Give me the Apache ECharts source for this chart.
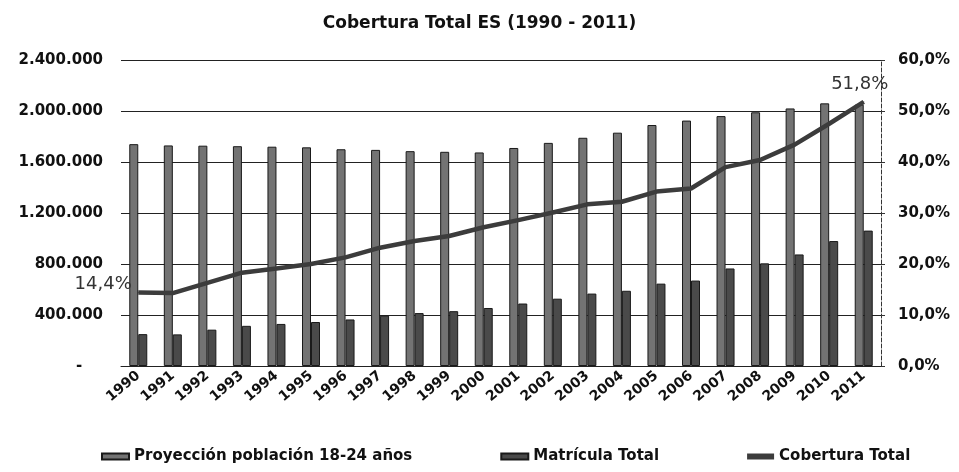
<!DOCTYPE html>
<html>
<head>
<meta charset="utf-8">
<script src="https://cdn.jsdelivr.net/npm/echarts@6/dist/echarts.min.js"></script>
<style>
    html, body {margin: 0; padding: 0; background: #fff;}
    #main {width: 959px; height: 472px;}
</style>
</head>
<body>
<div id="main"></div>
<script>
    var years = ['1990', '1991', '1992', '1993', '1994', '1995', '1996', '1997', '1998', '1999', '2000',
        '2001', '2002', '2003', '2004', '2005', '2006', '2007', '2008', '2009', '2010', '2011'];
    var proyeccion = [1740000, 1730000, 1728000, 1724000, 1720000, 1715000, 1700000, 1695000, 1685000, 1680000, 1675000,
        1710000, 1750000, 1790000, 1830000, 1890000, 1925000, 1960000, 1990000, 2020000, 2060000, 2050000];
    var matricula = [250000, 248000, 285000, 315000, 330000, 345000, 365000, 395000, 415000, 430000, 455000,
        490000, 528000, 568000, 590000, 646000, 670000, 765000, 805000, 875000, 980000, 1062000];
    var cobertura = [14.4, 14.3, 16.3, 18.3, 19.1, 20.0, 21.3, 23.2, 24.5, 25.5, 27.2,
        28.6, 30.1, 31.7, 32.2, 34.2, 34.8, 39.0, 40.4, 43.4, 47.5, 51.8];

    var font = 'DejaVu Sans';

    function miles(v) {
        if (v === 0) return '-    ';
        return String(v).replace(/\B(?=(\d{3})+(?!\d))/g, '.');
    }

    function pct(v) {
        return v.toFixed(1).replace('.', ',') + '%';
    }

    // only the first and last point carry a label
    var lineData = cobertura.map(function (v, i) {
        if (i === 0) {
            return {value: v, label: {show: true, position: 'left', distance: 2, offset: [-4, -8]}};
        }
        if (i === cobertura.length - 1) {
            return {value: v, label: {show: true, position: 'top', distance: 4, offset: [-4, -4]}};
        }
        return v;
    });

    var chart = echarts.init(document.getElementById('main'));
    chart.setOption({
        animation: false,
        textStyle: {fontFamily: font},
        title: {
            text: 'Cobertura Total ES (1990 - 2011)', left: 'center', top: 10,
            textStyle: {fontFamily: font, fontSize: 17, fontWeight: 'bold', color: '#111'}
        },
        grid: {left: 121, right: 78, top: 60, bottom: 106},
        legend: {
            left: 96, bottom: 3, itemGap: 88, itemWidth: 27, itemHeight: 6,
            textStyle: {fontFamily: font, fontSize: 15, fontWeight: 'bold', color: '#111'},
            data: [
                {name: 'Proyección población 18-24 años', icon: 'rect'},
                {name: 'Matrícula Total', icon: 'rect'},
                {name: 'Cobertura Total', icon: 'rect'}
            ]
        },
        xAxis: {
            type: 'category', data: years,
            axisLine: {lineStyle: {color: '#222'}},
            axisTick: {show: false},
            axisLabel: {rotate: 40, margin: 8, fontSize: 14, fontWeight: 'bold', color: '#111', interval: 0}
        },
        yAxis: [
            {
                type: 'value', min: 0, max: 2400000, interval: 400000,
                axisLine: {show: false}, axisTick: {show: false},
                splitLine: {lineStyle: {color: '#222', width: 1}},
                axisLabel: {margin: 18, fontSize: 15, fontWeight: 'bold', color: '#111', formatter: miles}
            },
            {
                type: 'value', min: 0, max: 60, interval: 10, position: 'right',
                axisLine: {show: true, lineStyle: {color: '#333', type: 'dashed'}},
                axisTick: {show: true, length: 4, lineStyle: {color: '#333'}},
                splitLine: {show: false},
                axisLabel: {margin: 17, fontSize: 15, fontWeight: 'bold', color: '#111', formatter: pct}
            }
        ],
        series: [
            {
                name: 'Proyección población 18-24 años', type: 'bar',
                barWidth: 9, barGap: '0%',
                itemStyle: {color: '#737373', borderColor: '#1a1a1a', borderWidth: 1},
                data: proyeccion
            },
            {
                name: 'Matrícula Total', type: 'bar',
                barWidth: 9,
                itemStyle: {color: '#4a4a4a', borderColor: '#1a1a1a', borderWidth: 1},
                data: matricula
            },
            {
                name: 'Cobertura Total', type: 'line', yAxisIndex: 1, z: 5,
                symbol: 'circle', symbolSize: 1, showSymbol: true,
                lineStyle: {color: '#3c3c3c', width: 4.5},
                itemStyle: {color: '#3c3c3c'},
                label: {
                    show: false, fontFamily: font, fontSize: 18, color: '#333',
                    formatter: function (p) { return pct(p.value); }
                },
                data: lineData
            }
        ]
    });
</script>
</body>
</html>
